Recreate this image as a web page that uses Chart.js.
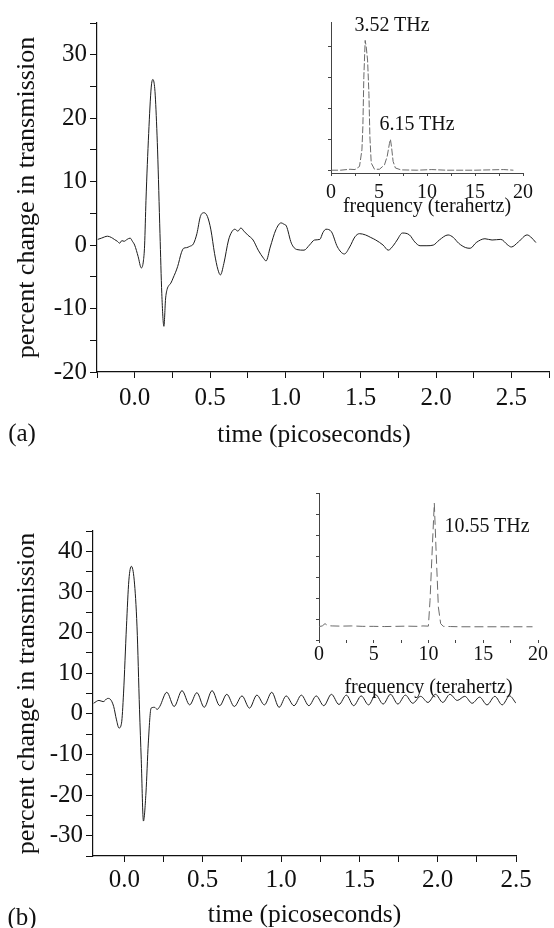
<!DOCTYPE html>
<html>
<head>
<meta charset="utf-8">
<script src="https://cdn.jsdelivr.net/npm/chart.js@4.4.1/dist/chart.umd.min.js"></script>
<style>
  body { margin: 0; background: #fff; }
  #page { position: relative; width: 554px; height: 928px; overflow: hidden; font-family: 'Liberation Serif', 'DejaVu Serif', serif; color: #111; }
  canvas { position: absolute; }
  .note { position: absolute; transform: translate(-50%, -50%); white-space: nowrap; line-height: 1; }
</style>
</head>
<body>
<div id="page">
  <canvas id="mainA" width="554" height="460" style="left:0;top:0"></canvas>
  <canvas id="insetA" width="264" height="225" style="left:290px;top:0"></canvas>
  <canvas id="mainB" width="554" height="468" style="left:0;top:460px"></canvas>
  <canvas id="insetB" width="274" height="235" style="left:280px;top:470px"></canvas>

  <div class="note" style="left:392px;top:24px;font-size:20px">3.52 THz</div>
  <div class="note" style="left:417px;top:123px;font-size:20px">6.15 THz</div>
  <div class="note" style="left:487px;top:525px;font-size:20px">10.55 THz</div>
  <div class="note" style="left:22px;top:432px;font-size:25px">(a)</div>
  <div class="note" style="left:314px;top:434px;font-size:25.5px">time (picoseconds)</div>
  <div class="note" style="left:22px;top:916px;font-size:25px">(b)</div>
</div>
<script>
// panel (a): time trace
const timeA = [-0.245, -0.22, -0.18, -0.155, -0.135, -0.115, -0.1, -0.085, -0.07, -0.05, -0.03, -0.015, 0,
  0.023, 0.044, 0.058, 0.066, 0.075, 0.093, 0.11, 0.121, 0.132, 0.138, 0.152, 0.168, 0.18, 0.194, 0.205,
  0.215, 0.226, 0.24, 0.255, 0.285, 0.31, 0.325, 0.345, 0.365, 0.39, 0.413, 0.436, 0.46, 0.483, 0.506,
  0.53, 0.553, 0.569, 0.592, 0.623, 0.645, 0.665, 0.685, 0.705, 0.725, 0.75, 0.786, 0.82, 0.856, 0.872,
  0.9, 0.937, 0.972, 0.99, 1.007, 1.04, 1.077, 1.124, 1.16, 1.194, 1.229, 1.25, 1.27, 1.306, 1.346,
  1.392, 1.427, 1.462, 1.492, 1.532, 1.567, 1.6, 1.649, 1.683, 1.719, 1.742, 1.777, 1.824, 1.859,
  1.894, 1.94, 1.982, 2.022, 2.08, 2.115, 2.15, 2.197, 2.227, 2.267, 2.325, 2.372, 2.43, 2.477, 2.5,
  2.547, 2.605, 2.628, 2.663];
const valA = [0.9, 1.1, 1.4, 1.2, 0.9, 0.6, 0.3, 0.7, 0.6, 0.9, 1.1, 0.6, 0,
  -1.8, -3.6, -2.5, 0, 7, 17.6, 24.9, 26.1, 25, 23, 15, 1.8, -7.6, -12.8, -8.5,
  -7, -6.4, -6, -5.2, -3.4, -1.2, -0.5, -0.4, -0.2, 0.2, 1.8, 4.5, 5.1, 4.5, 2.4,
  -1.3, -3.9, -4.7, -2.9, 0.8, 2.1, 2.5, 2.2, 2.7, 2.2, 1.6, 0.8, -0.8, -2.1, -2.5,
  -0.3, 2.4, 3.5, 3.3, 3.0, 0.3, -0.7, -0.8, 0, 0.8, 0.9, 2.0, 2.5, 2.1, -0.3,
  -1.4, -0.3, 1.3, 1.8, 1.6, 1.2, 0.8, 0, -0.8, 0, 0.8, 1.9, 1.6, 0.5,
  -0.1, -0.1, 0, 0.8, 1.6, 1.2, 0.3, -0.4, -0.5, 0.4, 1.0, 0.8, 0.9, 0, -0.3,
  0.5, 1.6, 1.3, 0.4];

// panel (a) inset: spectrum
const freqA = [0, 1, 1.98, 2.5, 2.97, 3.22, 3.32, 3.42, 3.56, 3.67, 3.81, 3.95, 4.05, 4.19, 4.53,
  5.05, 5.57, 5.85, 6.09, 6.19, 6.3, 6.47, 6.71, 7.3, 9, 10.5, 12, 15, 18, 19];
const ampA = [0.02, 0.02, 0.05, 0.04, 0.14, 0.67, 1.42, 3.0, 4.18, 3.97, 3.55, 2.48, 1.1, 0.25, 0.05,
  0.05, 0.19, 0.46, 0.88, 1.01, 0.78, 0.3, 0.09, 0.03, 0.02, 0.04, 0.02, 0.02, 0.04, 0.02];

// panel (b): time trace
const timeB = [-0.196, -0.162, -0.135, -0.106, -0.09, -0.068, -0.05, -0.034, -0.018, -0.005, 0.0135,
  0.029, 0.045, 0.063, 0.081, 0.097, 0.108, 0.122, 0.138, 0.153, 0.171, 0.192, 0.21, 0.226,
  0.271, 0.318, 0.368, 0.417, 0.463, 0.51, 0.56, 0.609, 0.654, 0.702, 0.751, 0.799, 0.846, 0.894,
  0.941, 0.988, 1.033, 1.083, 1.13, 1.178, 1.225, 1.273, 1.322, 1.37, 1.417, 1.464, 1.512, 1.559,
  1.604, 1.652, 1.699, 1.746, 1.794, 1.841, 1.891, 1.938, 1.986, 2.033, 2.078, 2.125, 2.173, 2.22,
  2.268, 2.315, 2.365, 2.412, 2.459, 2.5];
const valB = [2.6, 3.3, 3.0, 3.8, 3.6, 1.8, -1.5, -3.5, -2.3, 5.1, 21.4,
  32.9, 36.3, 32.9, 21.4, 1, -11.3, -26.4, -19.5, -7.2, 1.4, 1.6, 1.1, 1.8,
  5.3, 1.8, 5.7, 2.2, 5.2, 1.6, 5.7, 2.0, 4.8, 1.8, 4.4, 1.4, 4.6, 2.2,
  5.3, 1.6, 4.4, 2.0, 4.6, 2.0, 4.4, 2.0, 4.8, 2.3, 4.6, 2.0, 4.4, 2.2,
  4.7, 2.4, 4.8, 2.4, 4.6, 2.6, 4.3, 2.8, 4.8, 2.8, 4.8, 3.3, 4.3, 2.6,
  4.1, 2.2, 4.3, 2.2, 4.4, 2.6];

// panel (b) inset: spectrum
const freqB = [0, 0.3, 0.55, 0.8, 1.2, 2, 3, 4, 5, 6, 7, 8, 9, 9.5, 9.99, 10.14, 10.35, 10.53,
  10.68, 10.9, 11.11, 11.35, 12, 13, 15, 17, 19.5];
const ampB = [0.02, 0.05, 0.16, 0.06, 0.05, 0.04, 0.05, 0.03, 0.03, 0.02, 0.03, 0.04, 0.03, 0.05, 0.04,
  1.27, 3.81, 5.9, 3.81, 0.95, 0.16, 0.03, 0.02, 0.01, 0.01, 0.01, 0.01];

// tick labels
const yLabelsA = [-20, -10, 0, 10, 20, 30];
const yLabelsB = [-30, -20, -10, 0, 10, 20, 30, 40];
const xLabelsMain = [0, 0.5, 1, 1.5, 2, 2.5];
const xLabelsInset = [0, 5, 10, 15, 20];

const SERIF = "'Liberation Serif', 'DejaVu Serif', serif";
const INK = '#111';

function pts(xs, ys) {
  return xs.map((x, i) => ({ x: x, y: ys[i] }));
}

// show a label only where the tick value is in the list
function labelFrom(list, digits) {
  return v => {
    const hit = list.find(l => Math.abs(l - v) < 1e-6);
    return hit === undefined ? '' : hit.toFixed(digits);
  };
}

function mainChart(id, xs, ys, o) {
  return new Chart(document.getElementById(id), {
    type: 'line',
    data: { datasets: [{ data: pts(xs, ys), borderColor: '#1c1c1c', borderWidth: 1, pointRadius: 0,
      cubicInterpolationMode: 'monotone', fill: false }] },
    options: {
      responsive: false, animation: false, devicePixelRatio: 1,
      layout: { padding: { top: o.top, right: o.right, left: 0, bottom: 0 } },
      plugins: { legend: { display: false }, tooltip: { enabled: false } },
      scales: {
        x: {
          type: 'linear', min: o.xMin, max: o.xMax,
          afterFit: s => { s.height = o.xHeight; },
          border: { display: true, color: INK, width: 1.2 },
          grid: { drawOnChartArea: false, tickLength: 6, color: INK, tickWidth: 1 },
          ticks: { stepSize: 0.25, includeBounds: false, autoSkip: false, maxRotation: 0, padding: o.xPad,
            color: INK, font: { family: SERIF, size: 25 }, callback: labelFrom(xLabelsMain, 1) },
          title: { display: o.xTitle, text: 'time (picoseconds)', color: INK,
            font: { family: SERIF, size: 25.5, lineHeight: 1 }, padding: { top: 0, bottom: o.titlePad } }
        },
        y: {
          type: 'linear', min: o.yMin, max: o.yMax,
          afterFit: s => { s.width = o.yWidth; },
          border: { display: true, color: INK, width: 1.2 },
          grid: { drawOnChartArea: false, tickLength: 7, color: INK, tickWidth: 1 },
          ticks: { stepSize: 5, includeBounds: false, autoSkip: false, padding: 3,
            color: INK, font: { family: SERIF, size: 25 }, callback: labelFrom(o.yLabels, 0) },
          title: { display: true, text: 'percent change in transmission', color: INK,
            font: { family: SERIF, size: 26, lineHeight: 1 }, padding: { top: 14, bottom: 0 } }
        }
      }
    }
  });
}

function insetChart(id, xs, ys, o) {
  return new Chart(document.getElementById(id), {
    type: 'line',
    data: { datasets: [{ data: pts(xs, ys), borderColor: '#6a6a6a', borderWidth: 1, pointRadius: 0,
      borderDash: o.dash, tension: 0, fill: false }] },
    options: {
      responsive: false, animation: false, devicePixelRatio: 1,
      layout: { padding: { top: o.top, right: o.right, left: 0, bottom: 0 } },
      plugins: { legend: { display: false }, tooltip: { enabled: false } },
      scales: {
        x: {
          type: 'linear', min: 0, max: 20,
          afterFit: s => { s.height = o.xHeight; },
          border: { display: o.xBorder, color: '#444', width: 1 },
          grid: { drawOnChartArea: false, tickLength: 3, color: '#444' },
          ticks: { stepSize: 2.5, autoSkip: false, maxRotation: 0, padding: o.xPad,
            color: INK, font: { family: SERIF, size: 20 }, callback: labelFrom(xLabelsInset, 0) },
          title: { display: true, text: 'frequency (terahertz)', color: INK,
            font: { family: SERIF, size: 20, lineHeight: 1.2 }, padding: { top: 0, bottom: o.titlePad } }
        },
        y: {
          type: 'linear', min: o.yMin, max: o.yMax,
          afterFit: s => { s.width = o.yWidth; },
          border: { display: true, color: '#444', width: 1 },
          grid: { drawOnChartArea: false, tickLength: 3, color: '#444' },
          ticks: { stepSize: 1, includeBounds: false, autoSkip: false, padding: 0, callback: () => '' }
        }
      }
    }
  });
}

mainChart('mainA', timeA, valA, {
  top: 23, right: 3, xMin: -0.25, xMax: 2.75, yMin: -20, yMax: 35,
  xHeight: 88, yWidth: 97, xPad: 5, titlePad: 15, yLabels: yLabelsA, xTitle: false
});
mainChart('mainB', timeB, valB, {
  top: 71, right: 38, xMin: -0.2, xMax: 2.5, yMin: -35, yMax: 45,
  xHeight: 72, yWidth: 93, xPad: 3, titlePad: 0, yLabels: yLabelsB, xTitle: true
});
insetChart('insetA', freqA, ampA, {
  top: 22, right: 31, xHeight: 52, yWidth: 41, yMin: -0.07, yMax: 4.77,
  xPad: 5, titlePad: 6, xBorder: true, dash: [7, 2]
});
insetChart('insetB', freqB, ampB, {
  top: 23, right: 16, xHeight: 65, yWidth: 39, yMin: -0.62, yMax: 6.38,
  xPad: 0, titlePad: 5, xBorder: false, dash: [9, 4]
});
</script>
</body>
</html>
